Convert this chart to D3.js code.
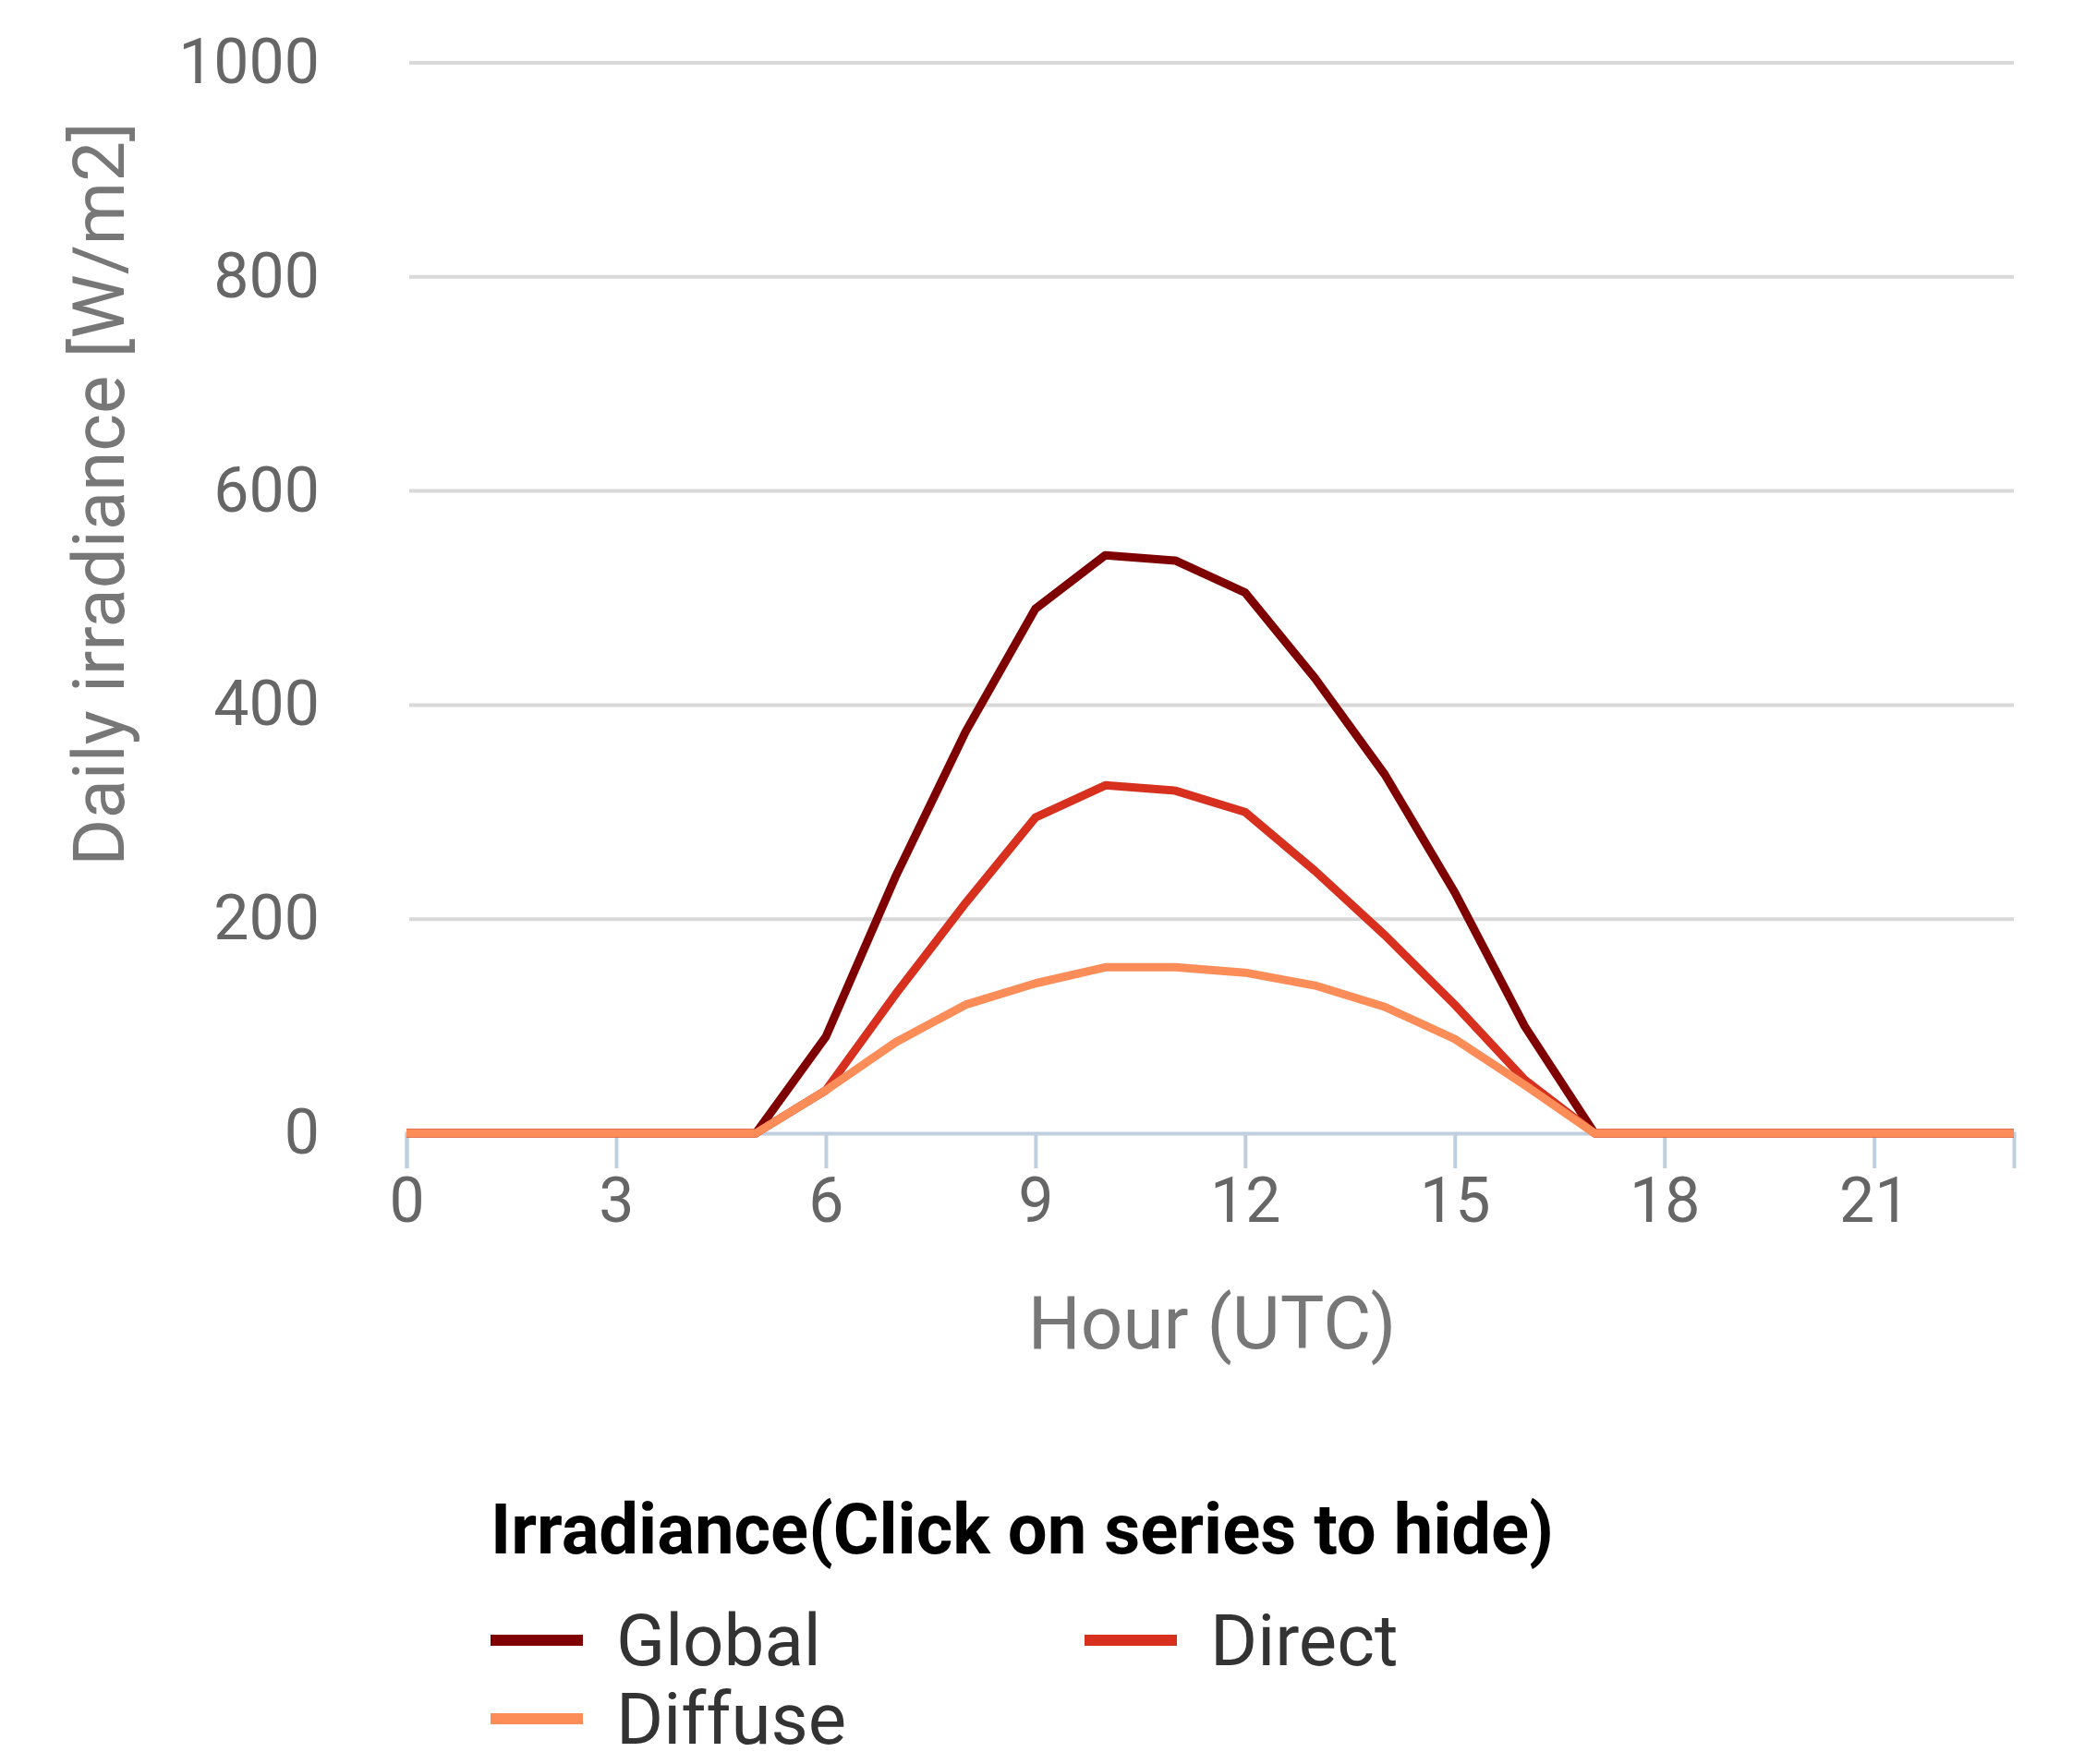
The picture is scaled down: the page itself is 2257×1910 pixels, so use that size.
<!DOCTYPE html>
<html lang="en">
<head>
<meta charset="utf-8">
<script src="https://d3js.org/d3.v7.min.js"></script>
<style>
  body { margin: 0; background: #fff; font-family: Roboto, "Liberation Sans", sans-serif; }
</style>
</head>
<body>
<svg id="chart" width="2257" height="1910"></svg>
<script>
var hours = d3.range(0, 24);
var globalVals  = [0,0,0,0,0,0,90,240,375,490,540,535,505,425,335,225,100,0,0,0,0,0,0,0];
var directVals  = [0,0,0,0,0,0,40,130,215,295,325,320,300,245,185,120,50,0,0,0,0,0,0,0];
var diffuseVals = [0,0,0,0,0,0,40,85,120,140,155,155,150,138,118,88,45,0,0,0,0,0,0,0];
var xTicks = [0,3,6,9,12,15,18,21];
var yTicks = [0,200,400,600,800,1000];
var series = [
  {name: "Global", values: globalVals, color: "#7f0000"},
  {name: "Direct", values: directVals, color: "#d7301f"},
  {name: "Diffuse", values: diffuseVals, color: "#fc8d59"}
];

var svg = d3.select("#chart");
var x = d3.scaleLinear().domain([0, 23]).range([440, 2180]);
var y = d3.scaleLinear().domain([0, 1000]).range([1227, 68]);

// gridlines
svg.append("g").selectAll("line").data(yTicks.filter(d => d > 0)).join("line")
  .attr("x1", 443).attr("x2", 2180)
  .attr("y1", d => y(d)).attr("y2", d => y(d))
  .attr("stroke", "#d9d9d9").attr("stroke-width", 4);

// y labels
svg.append("g").selectAll("text").data(yTicks).join("text")
  .attr("x", 346).attr("y", d => y(d) + 22)
  .attr("text-anchor", "end").attr("font-size", 68).attr("fill", "#666")
  .text(d => d);

// x axis
var xAxis = svg.append("g").attr("transform", "translate(0,1227)")
  .call(d3.axisBottom(x).tickValues(xTicks).tickSize(38).tickPadding(10));
xAxis.select(".domain").attr("stroke", "#c0cfe0").attr("stroke-width", 4);
xAxis.selectAll(".tick line").attr("stroke", "#c0cfe0").attr("stroke-width", 4);
xAxis.selectAll(".tick text").attr("font-size", 68).attr("fill", "#666")
  .attr("font-family", "Roboto, sans-serif");

svg.append("text").attr("x", 1312).attr("y", 1460).attr("text-anchor", "middle")
  .attr("font-size", 80).attr("fill", "#777").text("Hour (UTC)");
svg.append("text").attr("transform", "translate(134,535) rotate(-90)")
  .attr("text-anchor", "middle").attr("font-size", 78).attr("fill", "#777")
  .text("Daily irradiance [W/m2]");

// lines (Diffuse drawn last, on top)
var line = d3.line().x((d, i) => x(hours[i])).y(d => y(d));
svg.append("g").selectAll("path").data(series).join("path")
  .attr("d", d => line(d.values))
  .attr("fill", "none").attr("stroke", d => d.color)
  .attr("stroke-width", 9).attr("stroke-linejoin", "round");

// legend
svg.append("text").attr("x", 531).attr("y", 1682)
  .attr("font-size", 76).attr("font-weight", "bold").attr("fill", "#000")
  .text("Irradiance(Click on series to hide)");
var legendPos = [[531, 1776], [1174, 1776], [531, 1861]];
var lg = svg.append("g").selectAll("g").data(series).join("g")
  .attr("transform", (d, i) => "translate(" + legendPos[i][0] + "," + legendPos[i][1] + ")");
lg.append("line").attr("x1", 0).attr("x2", 100)
  .attr("stroke", d => d.color).attr("stroke-width", 12);
lg.append("text").attr("x", 136).attr("y", 27)
  .attr("font-size", 78).attr("fill", "#333").text(d => d.name);
</script>
</body>
</html>
